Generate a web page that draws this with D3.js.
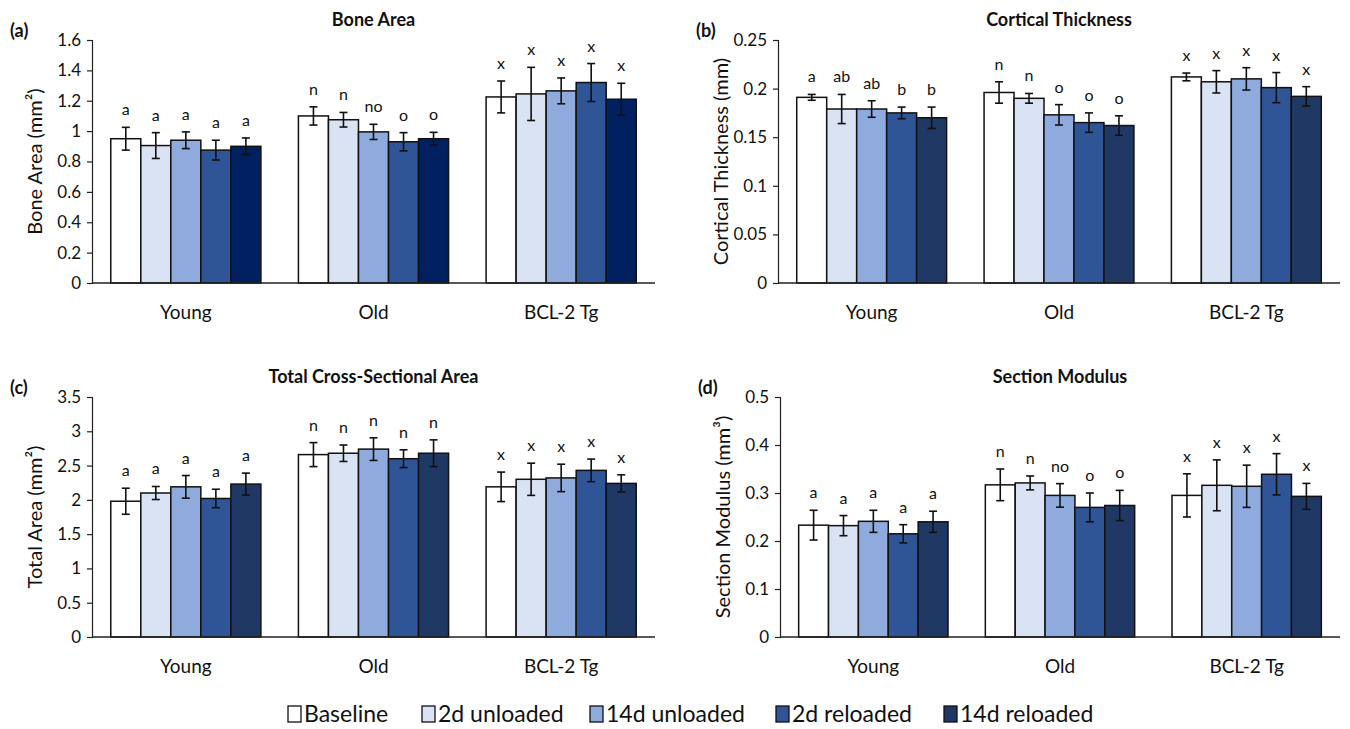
<!DOCTYPE html>
<html>
<head>
<meta charset="utf-8">
<script src="https://cdn.jsdelivr.net/npm/d3@7"></script>
<style>
  body { margin: 0; background: #fff; }
  svg { font-family: Lato, 'Open Sans', sans-serif; }
</style>
</head>
<body>
<svg id="chart" width="1350" height="729"></svg>
<script>
const groups = ['Young', 'Old', 'BCL-2 Tg']
const series = ['Baseline', '2d unloaded', '14d unloaded', '2d reloaded', '14d reloaded']
const colors = ['#ffffff', '#dae3f3', '#8faadc', '#2f5597', '#203864']

// values per group, one entry per series
const boneAreaMean = [[0.95, 0.905, 0.94, 0.875, 0.90], [1.10, 1.075, 0.995, 0.93, 0.95], [1.225, 1.245, 1.265, 1.32, 1.21]]
const boneAreaErr = [[0.075, 0.085, 0.055, 0.065, 0.055], [0.06, 0.048, 0.05, 0.06, 0.042], [0.105, 0.175, 0.085, 0.125, 0.105]]
const boneAreaSig = [['a', 'a', 'a', 'a', 'a'], ['n', 'n', 'no', 'o', 'o'], ['x', 'x', 'x', 'x', 'x']]

const thicknessMean = [[0.191, 0.179, 0.179, 0.175, 0.170], [0.196, 0.190, 0.173, 0.165, 0.162], [0.212, 0.207, 0.210, 0.201, 0.192]]
const thicknessErr = [[0.003, 0.015, 0.0085, 0.006, 0.011], [0.011, 0.005, 0.0105, 0.010, 0.010], [0.004, 0.0115, 0.0115, 0.0155, 0.010]]
const thicknessSig = [['a', 'ab', 'ab', 'b', 'b'], ['n', 'n', 'o', 'o', 'o'], ['x', 'x', 'x', 'x', 'x']]

const totalAreaMean = [[1.98, 2.10, 2.19, 2.02, 2.23], [2.66, 2.68, 2.74, 2.60, 2.68], [2.19, 2.30, 2.32, 2.43, 2.24]]
const totalAreaErr = [[0.19, 0.095, 0.165, 0.135, 0.16], [0.175, 0.12, 0.165, 0.13, 0.195], [0.215, 0.235, 0.20, 0.165, 0.125]]
const totalAreaSig = [['a', 'a', 'a', 'a', 'a'], ['n', 'n', 'n', 'n', 'n'], ['x', 'x', 'x', 'x', 'x']]

const modulusMean = [[0.233, 0.232, 0.241, 0.215, 0.240], [0.317, 0.321, 0.295, 0.270, 0.274], [0.295, 0.316, 0.314, 0.339, 0.293]]
const modulusErr = [[0.031, 0.021, 0.023, 0.019, 0.022], [0.033, 0.0145, 0.0245, 0.030, 0.0315], [0.045, 0.053, 0.044, 0.043, 0.027]]
const modulusSig = [['a', 'a', 'a', 'a', 'a'], ['n', 'n', 'no', 'o', 'o'], ['x', 'x', 'x', 'x', 'x']]

const panels = [
  { tag: '(a)', title: 'Bone Area', yLabel: 'Bone Area (mm²)', mean: boneAreaMean, err: boneAreaErr, sig: boneAreaSig,
    yMax: 1.6, yStep: 0.2, left: 92, right: 655, top: 40, bottom: 283, lastColor: '#002060' },
  { tag: '(b)', title: 'Cortical Thickness', yLabel: 'Cortical Thickness (mm)', mean: thicknessMean, err: thicknessErr, sig: thicknessSig,
    yMax: 0.25, yStep: 0.05, left: 778, right: 1340, top: 40, bottom: 283 },
  { tag: '(c)', title: 'Total Cross-Sectional Area', yLabel: 'Total Area (mm²)', mean: totalAreaMean, err: totalAreaErr, sig: totalAreaSig,
    yMax: 3.5, yStep: 0.5, left: 92, right: 655, top: 397, bottom: 637 },
  { tag: '(d)', title: 'Section Modulus', yLabel: 'Section Modulus (mm³)', mean: modulusMean, err: modulusErr, sig: modulusSig,
    yMax: 0.5, yStep: 0.1, left: 780, right: 1340, top: 397, bottom: 637 }
]

const svg = d3.select('#chart')

function drawPanel(p) {
  const g = svg.append('g')
  const x = d3.scaleBand().domain(groups).range([p.left, p.right]).paddingInner(0.2).paddingOuter(0.1)
  const xs = d3.scaleBand().domain(series).range([0, x.bandwidth()])
  const y = d3.scaleLinear().domain([0, p.yMax]).range([p.bottom, p.top])
  const fill = (i) => (i === 4 && p.lastColor ? p.lastColor : colors[i])

  // y axis
  const ticks = d3.range(0, p.yMax + p.yStep / 2, p.yStep)
  g.append('g')
    .attr('transform', `translate(${p.left},0)`)
    .call(d3.axisLeft(y).tickValues(ticks).tickSize(5).tickPadding(6).tickFormat((d) => +d.toFixed(2) + ''))
    .call((a) => a.select('.domain').attr('stroke', '#222').attr('stroke-width', 1.2))
    .call((a) => a.selectAll('.tick line').attr('stroke', '#222').attr('stroke-width', 1.2))
    .call((a) => a.selectAll('.tick text').attr('fill', '#111').style('font-size', '17px').style('font-family', 'Lato, sans-serif'))

  // bars
  groups.forEach((grp, gi) => {
    const cell = g.append('g').attr('transform', `translate(${x(grp)},0)`)
    series.forEach((s, si) => {
      const v = p.mean[gi][si]
      const e = p.err[gi][si]
      const bx = xs(s)
      cell.append('rect')
        .attr('x', bx)
        .attr('y', y(v))
        .attr('width', xs.bandwidth())
        .attr('height', y(0) - y(v))
        .attr('fill', fill(si))
        .attr('stroke', '#111')
        .attr('stroke-width', 1.5)
      const cx = bx + xs.bandwidth() / 2
      const eb = cell.append('g').attr('stroke', '#111').attr('stroke-width', 1.6)
      eb.append('line').attr('x1', cx).attr('x2', cx).attr('y1', y(v - e)).attr('y2', y(v + e))
      eb.append('line').attr('x1', cx - 4).attr('x2', cx + 4).attr('y1', y(v - e)).attr('y2', y(v - e))
      eb.append('line').attr('x1', cx - 4).attr('x2', cx + 4).attr('y1', y(v + e)).attr('y2', y(v + e))
      cell.append('text')
        .attr('x', cx)
        .attr('y', y(v + e) - 12)
        .attr('text-anchor', 'middle')
        .style('font-size', '16px')
        .attr('fill', '#111')
        .text(p.sig[gi][si])
    })
    g.append('text')
      .attr('x', x(grp) + x.bandwidth() / 2)
      .attr('y', p.bottom + 36)
      .attr('text-anchor', 'middle')
      .style('font-size', '19px')
      .attr('fill', '#111')
      .text(grp)
  })

  // x axis line
  g.append('line')
    .attr('x1', p.left).attr('x2', p.right)
    .attr('y1', p.bottom).attr('y2', p.bottom)
    .attr('stroke', '#222').attr('stroke-width', 1.5)

  // titles
  g.append('text')
    .attr('x', (p.left + p.right) / 2)
    .attr('y', p.top - 14)
    .attr('text-anchor', 'middle')
    .style('font-size', '18px')
    .style('font-weight', 'bold')
    .attr('fill', '#111')
    .text(p.title)
  g.append('text')
    .attr('x', p.left - 82)
    .attr('y', p.top - 3)
    .style('font-size', '18px')
    .style('font-weight', 'bold')
    .attr('fill', '#111')
    .text(p.tag)
  g.append('text')
    .attr('transform', `translate(${p.left - 50},${(p.top + p.bottom) / 2}) rotate(-90)`)
    .attr('text-anchor', 'middle')
    .style('font-size', '20px')
    .attr('fill', '#111')
    .text(p.yLabel)
}

panels.forEach(drawPanel)

// legend
const legend = svg.append('g').attr('transform', 'translate(288,714)')
const legendX = d3.scaleOrdinal().domain(series).range([0, 134, 302, 488, 656])
series.forEach((s, i) => {
  const item = legend.append('g').attr('transform', `translate(${legendX(s)},0)`)
  item.append('rect')
    .attr('x', 0).attr('y', -8)
    .attr('width', 13).attr('height', 16)
    .attr('fill', colors[i])
    .attr('stroke', '#111').attr('stroke-width', 1.3)
  item.append('text')
    .attr('x', 16).attr('y', 8)
    .style('font-size', '23px')
    .attr('fill', '#111')
    .text(s)
})
</script>
</body>
</html>
